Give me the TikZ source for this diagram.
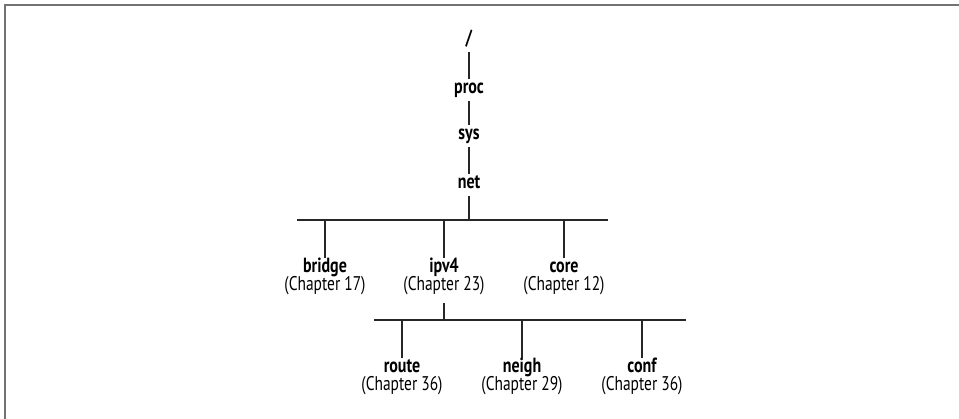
\documentclass[tikz,border=0pt]{standalone}
\usepackage{fontspec}
\setmainfont{PT Sans}[FakeStretch=0.78]
\begin{document}
\begin{tikzpicture}[x=1pt,y=-1pt,
  conn/.style={line width=2.6pt, draw=black!85},
  frameline/.style={line width=2pt, draw=black!55},
  dir/.style={font=\fontsize{20.5}{22}\selectfont\bfseries, inner xsep=0pt, inner ysep=2pt, text height=13pt, text depth=5pt, anchor=base},
  chap/.style={font=\fontsize{19.8}{22}\selectfont, inner xsep=0pt, inner ysep=7pt, text height=13pt, text depth=5pt, anchor=base}]
\useasboundingbox (0,0) rectangle (959,419);
\draw[frameline] (959,5.5) -- (4.5,5.5) -- (4.5,419);
% top chain
\node[dir] (root) at (469,45) {/};
\node[dir] (proc) at (469,94) {proc};
\node[dir] (sys) at (469,140) {sys};
\node[dir] (net) at (469,189) {net};
\draw[conn] (root.south) -- (proc.north);
\draw[conn] (proc.south) -- (sys.north);
\draw[conn] (sys.south) -- (net.north);
% first level
\coordinate (b1) at (469,220);
\coordinate (b1l) at (297,220);
\coordinate (b1r) at (608,220);
\draw[conn] (net.south) -- (b1);
\draw[conn] (b1l) -- (b1r);
\node[dir] (bridge) at (325,273) {bridge};
\node[chap] (bridgec) at (325,291) {(Chapter 17)};
\node[dir] (ipv4) at (444,273) {ipv4};
\node[chap] (ipv4c) at (444,291) {(Chapter 23)};
\node[dir] (core) at (564,273) {core};
\node[chap] (corec) at (564,291) {(Chapter 12)};
\draw[conn] (bridge.north |- b1) -- (bridge.north);
\draw[conn] (ipv4.north |- b1) -- (ipv4.north);
\draw[conn] (core.north |- b1) -- (core.north);
% second level
\coordinate (b2) at (444,320);
\coordinate (b2l) at (374,320);
\coordinate (b2r) at (686,320);
\draw[conn] (ipv4c.south) -- (b2);
\draw[conn] (b2l) -- (b2r);
\node[dir] (route) at (402,373) {route};
\node[chap] (routec) at (402,391) {(Chapter 36)};
\node[dir] (neigh) at (522,373) {neigh};
\node[chap] (neighc) at (522,391) {(Chapter 29)};
\node[dir] (conf) at (642,373) {conf};
\node[chap] (confc) at (642,391) {(Chapter 36)};
\draw[conn] (route.north |- b2) -- (route.north);
\draw[conn] (neigh.north |- b2) -- (neigh.north);
\draw[conn] (conf.north |- b2) -- (conf.north);
\end{tikzpicture}
\end{document}
